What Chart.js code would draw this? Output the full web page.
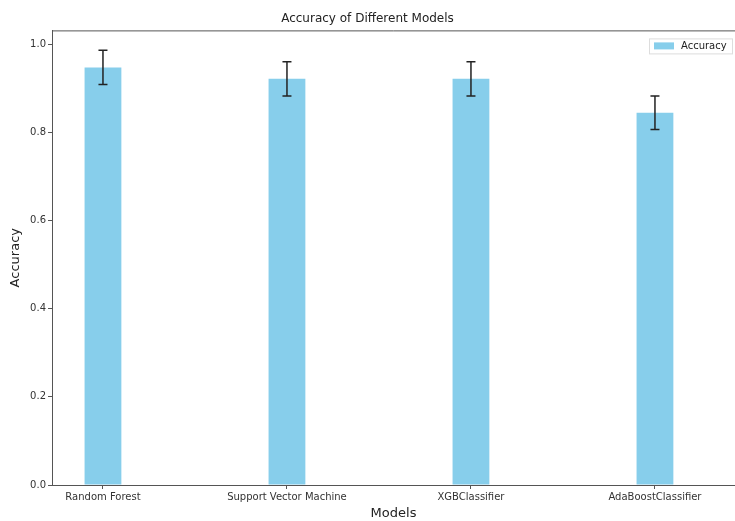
<!DOCTYPE html>
<html>
<head>
<meta charset="utf-8">
<script src="https://cdn.jsdelivr.net/npm/chart.js@4"></script>
<style>
  html, body { margin: 0; padding: 0; background: #fff; }
  #wrap { width: 735px; height: 521px; }
</style>
</head>
<body>
<div id="wrap"><canvas id="accChart" width="735" height="521"></canvas></div>
<script>
// datos
const modelos = ['Random Forest', 'Support Vector Machine', 'XGBClassifier', 'AdaBoostClassifier'];
const precision = [0.948, 0.922, 0.922, 0.845];
const errores = [0.039, 0.039, 0.039, 0.038];
const ticksY = [0, 0.2, 0.4, 0.6, 0.8, 1.0];
const posX = [0, 1, 2, 3];
const serie = 'Accuracy';

const fuente = "'DejaVu Sans', sans-serif";
const gris = '#555';
const azul = '#87CEEB';

// barras de error, borde superior y leyenda
const extras = {
    id: 'extras',
    afterDatasetsDraw(chart) {
        const ctx = chart.ctx;
        const x = chart.scales.x;
        const y = chart.scales.y;
        const area = chart.chartArea;
        ctx.save();
        ctx.strokeStyle = gris;
        ctx.lineWidth = 1;
        ctx.beginPath();
        ctx.moveTo(area.left, area.top + 0.5);
        ctx.lineTo(area.right, area.top + 0.5);
        ctx.stroke();

        ctx.strokeStyle = '#222';
        ctx.lineWidth = 1.5;
        precision.forEach((v, i) => {
            const px = x.getPixelForValue(posX[i]);
            const top = y.getPixelForValue(v + errores[i]);
            const bot = y.getPixelForValue(v - errores[i]);
            ctx.beginPath();
            ctx.moveTo(px, top);
            ctx.lineTo(px, bot);
            ctx.moveTo(px - 4.5, top);
            ctx.lineTo(px + 4.5, top);
            ctx.moveTo(px - 4.5, bot);
            ctx.lineTo(px + 4.5, bot);
            ctx.stroke();
        });

        // leyenda
        const bx = area.right - 86, by = area.top + 8;
        ctx.fillStyle = '#fff';
        ctx.fillRect(bx, by, 83, 15);
        ctx.strokeStyle = '#ddd';
        ctx.lineWidth = 1;
        ctx.strokeRect(bx + 0.5, by + 0.5, 83, 15);
        ctx.fillStyle = azul;
        ctx.fillRect(bx + 5, by + 4, 20, 7);
        ctx.fillStyle = '#222';
        ctx.font = '10px ' + fuente;
        ctx.textBaseline = 'middle';
        ctx.textAlign = 'left';
        ctx.fillText(serie, bx + 32, by + 8);
        ctx.restore();
    }
};

const ctx = document.getElementById('accChart').getContext('2d');
new Chart(ctx, {
    type: 'bar',
    data: {
        datasets: [{
            label: serie,
            data: posX.map((p, i) => ({ x: p, y: precision[i] })),
            backgroundColor: azul,
            borderWidth: 0,
            categoryPercentage: 1,
            barPercentage: 0.2
        }]
    },
    options: {
        responsive: false,
        animation: false,
        layout: { padding: { top: 0, right: 0, bottom: 0, left: 0 } },
        plugins: {
            title: {
                display: true,
                text: 'Accuracy of Different Models',
                color: '#222',
                font: { family: fuente, size: 12, weight: 'normal' },
                padding: { top: 12, bottom: 4 }
            },
            legend: { display: false },
            tooltip: { enabled: false }
        },
        scales: {
            x: {
                type: 'linear',
                offset: false,
                min: -0.277,
                max: 3.435,
                afterBuildTicks(scale) {
                    scale.ticks = posX.map(v => ({ value: v }));
                },
                afterFit(scale) {
                    scale.height = 36;
                },
                ticks: {
                    color: '#333',
                    font: { family: fuente, size: 10 },
                    padding: 2,
                    maxRotation: 0,
                    autoSkip: false,
                    callback: v => modelos[v]
                },
                grid: { offset: false, drawOnChartArea: false, tickLength: 4, color: gris },
                border: { color: gris, width: 1 },
                title: {
                    display: true,
                    text: 'Models',
                    color: '#222',
                    font: { family: fuente, size: 13 },
                    padding: { top: 1, bottom: 0 }
                }
            },
            y: {
                min: 0,
                max: 1.032,
                afterBuildTicks(scale) {
                    scale.ticks = ticksY.map(v => ({ value: v }));
                },
                afterFit(scale) {
                    scale.width = 52;
                },
                ticks: {
                    color: '#333',
                    font: { family: fuente, size: 10 },
                    padding: 2,
                    callback: v => Number(v).toFixed(1)
                },
                grid: { drawOnChartArea: false, tickLength: 4, color: gris },
                border: { color: gris, width: 1 },
                title: {
                    display: true,
                    text: 'Accuracy',
                    color: '#222',
                    font: { family: fuente, size: 13 },
                    padding: { top: 8, bottom: 0 }
                }
            }
        }
    },
    plugins: [extras]
});
</script>
</body>
</html>
